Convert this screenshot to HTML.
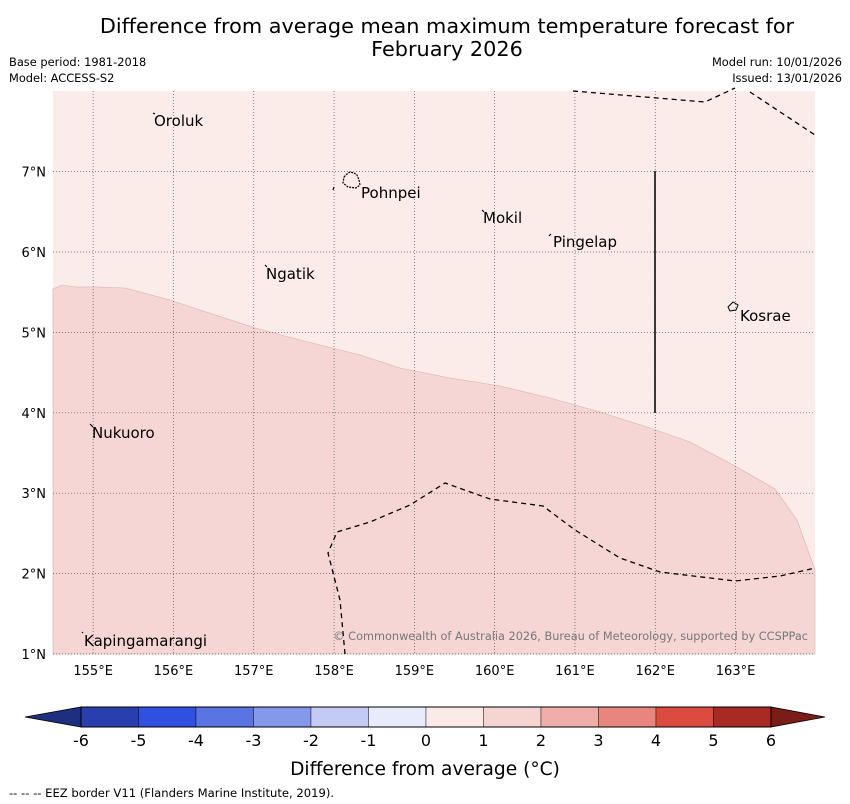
<!DOCTYPE html>
<html><head><meta charset="utf-8"><style>
body{margin:0;background:#fff;width:850px;height:804px;overflow:hidden;font-family:"DejaVu Sans","Liberation Sans",sans-serif;}
svg{position:absolute;left:0;top:0}
</style></head><body>
<svg width="850" height="804">
<text x="447" y="33" font-size="20.8" text-anchor="middle">Difference from average mean maximum temperature forecast for</text>
<text x="447" y="56" font-size="20.8" text-anchor="middle">February 2026</text>
<text x="9" y="66" font-size="11.4">Base period: 1981-2018</text>
<text x="9" y="82" font-size="11.4">Model: ACCESS-S2</text>
<text x="842" y="66" font-size="11.4" text-anchor="end">Model run: 10/01/2026</text>
<text x="842" y="82" font-size="11.4" text-anchor="end">Issued: 13/01/2026</text>
<g id="map">
<rect x="53" y="91" width="762" height="563" fill="#fbebe9"/>
<path d="M53,289 L62,285 L75,287 L97,287 L125,288 L170,300 L200,310 L255,328 L300,340 L360,355 L400,368 L450,378 L500,386 L550,398 L600,412 L650,428 L690,442 L735,466 L775,489 L797,520 L815,570 L815,654 L53,654 Z" fill="#f5d6d4" stroke="#d9b0ad" stroke-width="0.6"/>
<g id="grid" stroke="#555" stroke-width="0.7" stroke-dasharray="1,2"></g>
<path d="M573,91 L705,102 L735,88 M750,92 L815,135" fill="none" stroke="#000" stroke-width="1.3" stroke-dasharray="5,4"/>
<path d="M345,654 L340,600 L328,553 L337,532 L370,522 L410,505 L445,483 L490,499 L543,506 L575,530 L620,558 L660,572 L735,581 L780,576 L815,568" fill="none" stroke="#000" stroke-width="1.3" stroke-dasharray="5,4"/>
<line x1="655" y1="171" x2="655" y2="413" stroke="#000" stroke-width="1.5"/>
<path d="M344,177 L347,174 L350,172 L354,173 L357,175 L359,180 L360,185 L356,188 L348,187 L343,183 Z" fill="none" stroke="#000" stroke-width="1.2" stroke-dasharray="2,1"/>
<path d="M333,190 L334,187" stroke="#000" stroke-width="1.2"/>
<path d="M728,307 L733,302 L738,305 L736,310 L730,311 Z" fill="none" stroke="#000" stroke-width="1"/>
<g stroke="#000" stroke-width="1.2">
<path d="M153,113 l2,1 M482,210 l2,2 M549,236 l2,-2 M265,265 l2,2 M90,424 l3,3 M82,632 l1,1"/>
</g>
<g font-size="15" fill="#000">
<text x="154" y="126">Oroluk</text>
<text x="361" y="198">Pohnpei</text>
<text x="483" y="223">Mokil</text>
<text x="553" y="247">Pingelap</text>
<text x="266" y="279">Ngatik</text>
<text x="740" y="321">Kosrae</text>
<text x="92" y="438">Nukuoro</text>
<text x="84" y="646">Kapingamarangi</text>
</g>
<text x="808" y="640" font-size="11.3" fill="#777" text-anchor="end">© Commonwealth of Australia 2026, Bureau of Meteorology, supported by CCSPPac</text>
</g>
<g id="axes" font-size="13"></g>
<g id="cbar"></g>
<text x="425" y="775" font-size="18.6" text-anchor="middle">Difference from average (°C)</text>
<text x="9" y="797" font-size="11.6">--  --  -- EEZ border V11 (Flanders Marine Institute, 2019).</text>
</svg>
<script>
const lons=[155,156,157,158,159,160,161,162,163];
const lats=[1,2,3,4,5,6,7];
const cbTicks=[-6,-5,-4,-3,-2,-1,0,1,2,3,4,5,6];
const cbColors=["#2a3fae","#3050e0","#5a74e2","#8499eb","#c3caf3","#e8ebfa","#fceae8","#f5d4d2","#efaea9","#e8857d","#dc4b40","#a82a22"];
const NS="http://www.w3.org/2000/svg";
const X=lon=>53+(lon-154.5)*80.3;
const Y=lat=>654-(lat-1)*80.4;
const CB=v=>81+(v+6)*57.5;
function mk(t,a,p){const e=document.createElementNS(NS,t);for(const k in a)e.setAttribute(k,a[k]);p.appendChild(e);return e;}
const grid=document.getElementById('grid'),axes=document.getElementById('axes'),cb=document.getElementById('cbar');
lons.forEach(l=>{const g=mk('line',{x1:X(l),x2:X(l),y1:91,y2:654},grid);


const t=mk('text',{x:X(l),y:675,'text-anchor':'middle'},axes);t.textContent=l+'°E';

});
lats.forEach(l=>{const g=mk('line',{x1:53,x2:815,y1:Y(l),y2:Y(l)},grid);


const t=mk('text',{x:46,y:Y(l)+5,'text-anchor':'end'},axes);t.textContent=l+'°N';

});
const y0=707,y1=727;
const la=mk('polygon',{points:`${CB(-6)},${y0} ${CB(-6)},${y1} 25,${(y0+y1)/2}`,fill:'#1f2f7f',stroke:'#000','stroke-width':0.8},cb);


const ra=mk('polygon',{points:`${CB(6)},${y0} ${CB(6)},${y1} 825,${(y0+y1)/2}`,fill:'#7a1c18',stroke:'#000','stroke-width':0.8},cb);


cbColors.forEach((c,i)=>{const r=mk('rect',{x:CB(cbTicks[i]),y:y0,width:CB(cbTicks[i+1])-CB(cbTicks[i]),height:y1-y0,fill:c,stroke:'#000','stroke-width':0.4},cb);

});
mk('rect',{x:CB(-6),y:y0,width:CB(6)-CB(-6),height:y1-y0,fill:'none',stroke:'#000','stroke-width':1},cb);
cbTicks.forEach(v=>{const t=mk('text',{x:CB(v),y:746,'text-anchor':'middle','font-size':16},cb);t.textContent=v;

});
</script>
</body></html>
